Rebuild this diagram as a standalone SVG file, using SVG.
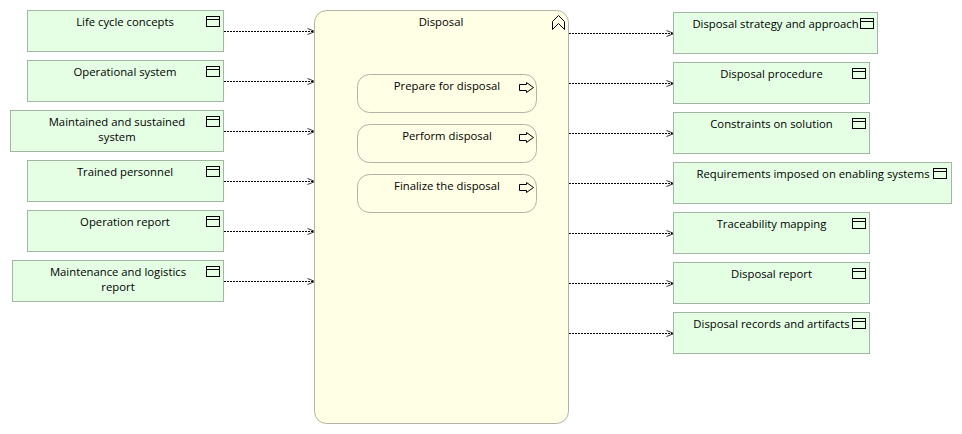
<svg xmlns="http://www.w3.org/2000/svg" width="962" height="434" viewBox="0 0 962 434">
<style>
text{font-family:"Open Sans","Noto Sans","Liberation Sans",sans-serif;font-size:11.3px;fill:#000;text-anchor:middle}
.obj{fill:#e4ffe4;stroke:#a3b5a3;stroke-width:1}
.pad{fill:#ffffe5;stroke:#b3b3a5;stroke-width:1}
.ico{fill:none;stroke:#000;stroke-width:1}
.con{fill:none;stroke:#000;stroke-width:1;stroke-dasharray:2 1;marker-end:url(#a)}
</style>
<defs>
<marker id="a" markerUnits="userSpaceOnUse" markerWidth="10" markerHeight="10" refX="8" refY="5" orient="auto"><path d="M0.5 2L8 5L0.5 8" fill="none" stroke="#333" stroke-width="1"/></marker>
<g id="o"><rect class="ico" x="0.5" y="0.5" width="13" height="10"/><path class="ico" d="M0.5 3.5H13.5"/></g>
<g id="p"><path class="ico" d="M0.5 2.5H7.5V0.5L14.5 5.5L7.5 10.5V8.5H0.5Z"/></g>
</defs>
<g id="connectors">
<path class="con" d="M224 31.5H315"/>
<path class="con" d="M224 81.5H315"/>
<path class="con" d="M224 131.5H315"/>
<path class="con" d="M224 181.5H315"/>
<path class="con" d="M224 231.5H315"/>
<path class="con" d="M224 281.5H315"/>
<path class="con" d="M569 33.5H674"/>
<path class="con" d="M569 83.5H674"/>
<path class="con" d="M569 133.5H674"/>
<path class="con" d="M569 183.5H674"/>
<path class="con" d="M569 233.5H674"/>
<path class="con" d="M569 283.5H674"/>
<path class="con" d="M569 333.5H674"/>
</g>
<g id="n1"><rect class="obj" x="27.5" y="10.5" width="196" height="41"/><use href="#o" x="206" y="16"/><text x="125" y="26">Life cycle concepts</text></g>
<g id="n2"><rect class="obj" x="27.5" y="60.5" width="196" height="41"/><use href="#o" x="206" y="66"/><text x="125" y="76">Operational system</text></g>
<g id="n3"><rect class="obj" x="10.5" y="110.5" width="213" height="41"/><use href="#o" x="206" y="116"/><text x="117" y="126">Maintained and sustained</text><text x="117" y="141">system</text></g>
<g id="n4"><rect class="obj" x="27.5" y="160.5" width="196" height="41"/><use href="#o" x="206" y="166"/><text x="125" y="176">Trained personnel</text></g>
<g id="n5"><rect class="obj" x="27.5" y="210.5" width="196" height="41"/><use href="#o" x="206" y="216"/><text x="125" y="226">Operation report</text></g>
<g id="n6"><rect class="obj" x="12.5" y="260.5" width="211" height="41"/><use href="#o" x="206" y="266"/><text x="118" y="276">Maintenance and logistics</text><text x="118" y="291">report</text></g>
<g id="main"><rect class="pad" x="314.5" y="10.5" width="254" height="413" rx="12" ry="12"/><path class="ico" d="M552.5 29.5V21.5L558.5 15.5L564.5 21.5V29.5L558.5 23.5Z"/><text x="441" y="26">Disposal</text></g>
<g id="s1"><rect class="pad" x="357.5" y="74.5" width="179" height="38" rx="12" ry="12"/><use href="#p" x="519" y="82"/><text x="447" y="90">Prepare for disposal</text></g>
<g id="s2"><rect class="pad" x="357.5" y="124.5" width="179" height="38" rx="12" ry="12"/><use href="#p" x="519" y="132"/><text x="447" y="140">Perform disposal</text></g>
<g id="s3"><rect class="pad" x="357.5" y="174.5" width="179" height="38" rx="12" ry="12"/><use href="#p" x="519" y="182"/><text x="447" y="190">Finalize the disposal</text></g>
<g id="r1"><rect class="obj" x="673.5" y="12.5" width="204" height="41"/><use href="#o" x="860" y="18"/><text x="775.5" y="28">Disposal strategy and approach</text></g>
<g id="r2"><rect class="obj" x="673.5" y="62.5" width="196" height="41"/><use href="#o" x="852" y="68"/><text x="771.5" y="78">Disposal procedure</text></g>
<g id="r3"><rect class="obj" x="673.5" y="112.5" width="196" height="41"/><use href="#o" x="852" y="118"/><text x="771.5" y="128">Constraints on solution</text></g>
<g id="r4"><rect class="obj" x="673.5" y="162.5" width="278" height="41"/><use href="#o" x="933" y="168"/><text x="813" y="178">Requirements imposed on enabling systems</text></g>
<g id="r5"><rect class="obj" x="673.5" y="212.5" width="196" height="41"/><use href="#o" x="852" y="218"/><text x="771.5" y="228">Traceability mapping</text></g>
<g id="r6"><rect class="obj" x="673.5" y="262.5" width="196" height="41"/><use href="#o" x="852" y="268"/><text x="771.5" y="278">Disposal report</text></g>
<g id="r7"><rect class="obj" x="673.5" y="312.5" width="196" height="41"/><use href="#o" x="852" y="318"/><text x="771.5" y="328">Disposal records and artifacts</text></g>
</svg>
